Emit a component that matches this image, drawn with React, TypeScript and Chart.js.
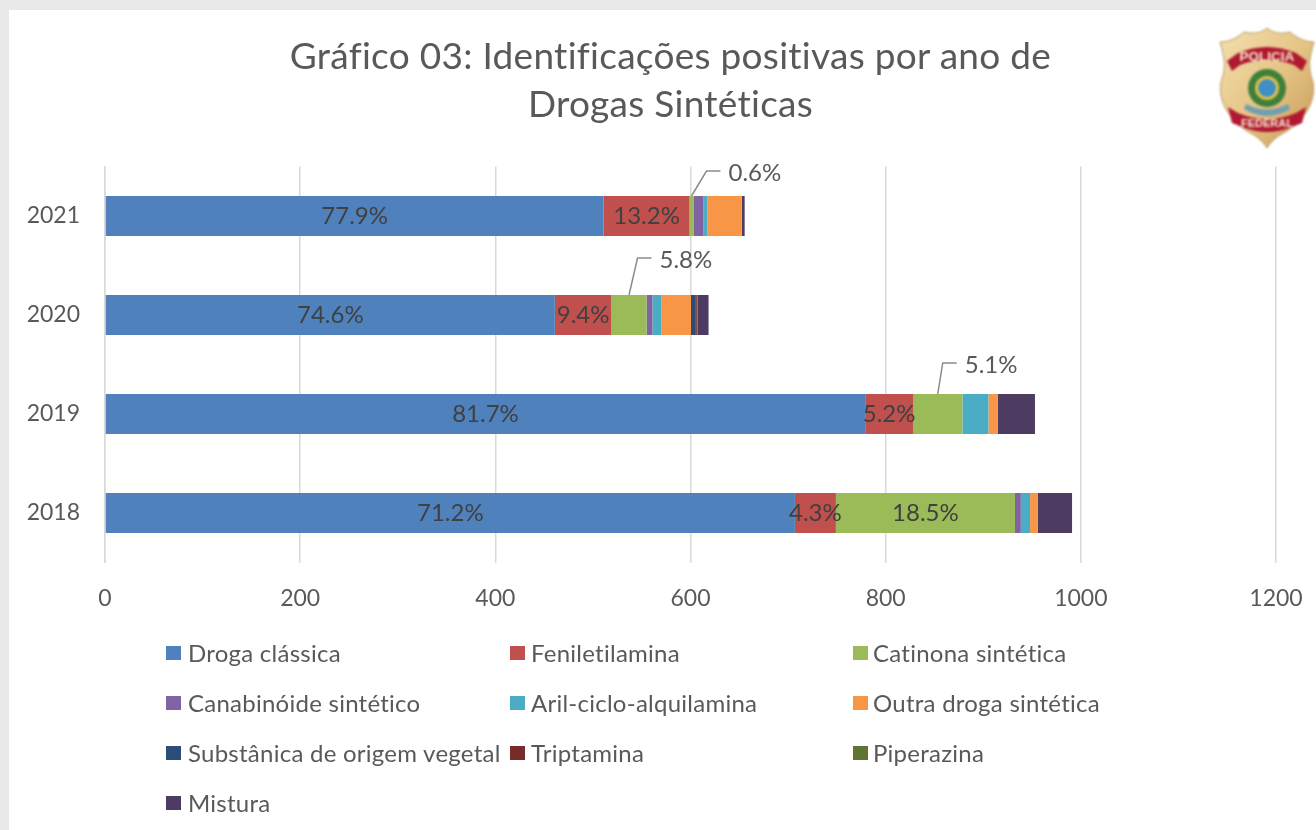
import React, { useEffect, useRef } from "react";
import { Chart, registerables } from "chart.js";

Chart.register(...registerables);

const years = ["2021", "2020", "2019", "2018"];
const drogaClassica = [511, 461, 779, 707];
const feniletilamina = [88, 58, 49, 42];
const catinona = [4, 36, 50.7, 183.5];
const canabinoide = [10, 6, 0, 6];
const arilCiclo = [4.5, 9, 26.6, 9.5];
const outraDroga = [35, 30.5, 9.7, 8];
const vegetal = [0, 5, 0, 0];
const triptamina = [0, 1, 0, 0];
const piperazina = [0, 1, 0, 0];
const mistura = [3, 11, 38, 35];

const pctClassica = ["77.9%", "74.6%", "81.7%", "71.2%"];
const pctFenil = ["13.2%", "9.4%", "5.2%", "4.3%"];
const pctCatinona = ["0.6%", "5.8%", "5.1%", "18.5%"];

const seriesNames = [
  "Droga clássica", "Feniletilamina", "Catinona sintética",
  "Canabinóide sintético", "Aril-ciclo-alquilamina", "Outra droga sintética",
  "Substânica de origem vegetal", "Triptamina", "Piperazina", "Mistura",
];
const seriesValues = [
  drogaClassica, feniletilamina, catinona, canabinoide, arilCiclo,
  outraDroga, vegetal, triptamina, piperazina, mistura,
];
const seriesColors = [
  "#4f81bd", "#c0504d", "#9bbb59", "#8064a2", "#4bacc6",
  "#f79646", "#2c4d75", "#772c2a", "#5f7530", "#4d3b62",
];
const xTicks = [0, 200, 400, 600, 800, 1000, 1200];
const titleLines = ["Gráfico 03: Identificações positivas por ano de", "Drogas Sintéticas"];

const FONT = "Lato, 'Noto Sans', sans-serif";
const leaderOffsets: Record<number, [number, number]> = { 0: [15, -25], 1: [8.5, -37], 2: [5, -31] };

const labelPlugin = {
  id: "pctLabels",
  afterDatasetsDraw(chart: any) {
    const ctx = chart.ctx;
    ctx.save();
    ctx.font = `24px ${FONT}`;
    ctx.textBaseline = "middle";
    const inside = (dsIndex: number, labels: string[], skip: (i: number) => boolean) => {
      chart.getDatasetMeta(dsIndex).data.forEach((el: any, i: number) => {
        if (skip(i)) return;
        ctx.fillStyle = "#404040";
        ctx.textAlign = "center";
        ctx.fillText(labels[i], (el.x + el.base) / 2, el.y);
      });
    };
    inside(0, pctClassica, () => false);
    inside(1, pctFenil, () => false);
    inside(2, pctCatinona, (i) => i !== 3);
    chart.getDatasetMeta(2).data.forEach((el: any, i: number) => {
      const off = leaderOffsets[i];
      if (!off) return;
      const cx = (el.x + el.base) / 2;
      const top = el.y - el.height / 2;
      ctx.strokeStyle = "#8c8c8c";
      ctx.lineWidth = 1.5;
      ctx.beginPath();
      ctx.moveTo(cx, top);
      ctx.lineTo(cx + off[0], top + off[1]);
      ctx.lineTo(cx + off[0] + 14, top + off[1]);
      ctx.stroke();
      ctx.fillStyle = "#595959";
      ctx.textAlign = "left";
      ctx.fillText(pctCatinona[i], cx + off[0] + 22, top + off[1] + 2);
    });
    ctx.restore();
  },
};

function Badge() {
  return (
    <svg width={98} height={122} viewBox="0 0 98 122"
      style={{ position: "absolute", left: 1218, top: 27, filter: "blur(0.8px)" }}>
      <defs>
        <linearGradient id="gold" x1="0" y1="0" x2="1" y2="1">
          <stop offset="0" stopColor="#f3dfae" />
          <stop offset="0.5" stopColor="#e6c587" />
          <stop offset="1" stopColor="#c79a55" />
        </linearGradient>
      </defs>
      <path d="M49 1 C56 7 64 7 72 5 C80 12 88 15 96 15 C92 30 89 38 95 55 C99 78 82 98 62 108 C56 112 52 116 49 121 C46 116 42 112 36 108 C16 98 -1 78 3 55 C9 38 6 30 2 15 C10 15 18 12 26 5 C34 7 42 7 49 1 Z"
        fill="url(#gold)" stroke="#b89a62" strokeWidth="1" />
      <path d="M9 34 L20 26 Q49 14 78 26 L89 34 L84 44 L76 38 Q49 28 22 38 L14 44 Z" fill="#b0192f" />
      <text x="49" y="34" textAnchor="middle" fontFamily="'Liberation Sans', sans-serif" fontWeight="700" fontSize="13.5" fill="#f6e9d0">POLICIA</text>
      <circle cx="49" cy="61" r="19" fill="#3f7f3a" />
      <circle cx="49" cy="61" r="12" fill="#e0c24a" />
      <circle cx="49" cy="61" r="9" fill="#3f8fc4" />
      <path d="M26 82 Q49 96 72 82 L70 77 Q49 88 28 77 Z" fill="#6f9fb0" />
      <path d="M10 80 L20 86 Q49 98 78 86 L88 80 L84 96 L74 100 Q49 110 24 100 L14 96 Z" fill="#b0192f" />
      <text x="49" y="100" textAnchor="middle" fontFamily="'Liberation Sans', sans-serif" fontWeight="700" fontSize="11" fill="#f6e9d0">FEDERAL</text>
    </svg>
  );
}

export default function App() {
  const ref = useRef<HTMLCanvasElement>(null);
  useEffect(() => {
    document.body.style.margin = "0";
    document.body.style.background = "#e8e8e8";
    const chart = new Chart(ref.current!, {
      type: "bar",
      data: {
        labels: years,
        datasets: seriesNames.map((name, i) => ({
          label: name,
          data: seriesValues[i],
          backgroundColor: seriesColors[i],
          borderWidth: 0,
          categoryPercentage: 1,
          barPercentage: 0.404,
        })),
      },
      options: {
        indexAxis: "y",
        animation: false,
        responsive: false,
        maintainAspectRatio: false,
        layout: { padding: { left: 0, right: 40, top: 166.5, bottom: 0 } },
        plugins: {
          legend: { display: false },
          tooltip: { enabled: false },
          title: { display: false },
        },
        scales: {
          x: {
            stacked: true,
            min: 0,
            max: 1200,
            afterBuildTicks: (s: any) => { s.ticks = xTicks.map((value) => ({ value })); },
            afterFit: (s: any) => { s.height = 267.5; s.paddingLeft = 0; s.paddingRight = 0; },
            grid: { color: "#d9d9d9", lineWidth: 1.5, drawTicks: false },
            border: { display: false },
            ticks: {
              color: "#595959", padding: 22, maxRotation: 0,
              font: { family: FONT, size: 23 },
              callback: (v: any) => String(v),
            },
          },
          y: {
            stacked: true,
            afterFit: (s: any) => { s.width = 105; s.paddingTop = 0; s.paddingBottom = 0; },
            grid: { display: false, drawTicks: false },
            border: { display: true, color: "#d9d9d9", width: 1.5 },
            ticks: { color: "#595959", padding: 25, font: { family: FONT, size: 23 } },
          },
        },
      },
      plugins: [labelPlugin],
    } as any);
    return () => chart.destroy();
  }, []);

  return (
    <div style={{ position: "relative", width: 1316, height: 830, overflow: "hidden" }}>
      <div style={{ position: "absolute", left: 9, top: 10, right: 0, bottom: 0, background: "#fff" }} />
      <canvas ref={ref} width={1316} height={830}
        style={{ position: "absolute", left: 0, top: 0, filter: "blur(0.6px)" }} />
      <div style={{ position: "absolute", left: 170.5, width: 1000, top: 31, textAlign: "center", fontFamily: FONT, fontSize: 37, lineHeight: "48px", letterSpacing: 0.28, color: "#595959", filter: "blur(0.5px)" }}>
        {titleLines.map((t) => <div key={t}>{t}</div>)}
      </div>
      <Badge />
      <div style={{ filter: "blur(0.5px)" }}>
        {seriesNames.map((name, i) => {
          const col = i % 3;
          const row = Math.floor(i / 3);
          const sx = [166, 510, 853][col];
          const cy = 653 + row * 50;
          return (
            <React.Fragment key={name}>
              <div style={{ position: "absolute", left: sx, top: cy - 7, width: 15, height: 14, background: seriesColors[i] }} />
              <div style={{ position: "absolute", left: sx + [22, 21, 20][col], top: cy - 15, height: 30, lineHeight: "30px", fontFamily: FONT, fontSize: 24, letterSpacing: 0.25, color: "#595959", whiteSpace: "nowrap" }}>
                {name}
              </div>
            </React.Fragment>
          );
        })}
      </div>
    </div>
  );
}
